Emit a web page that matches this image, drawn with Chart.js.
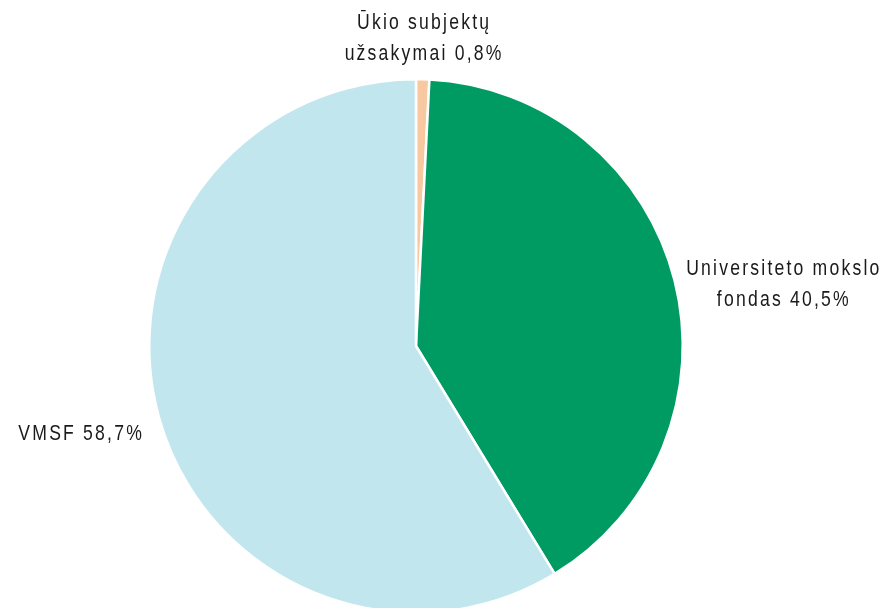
<!DOCTYPE html>
<html>
<head>
<meta charset="utf-8">
<script src="https://cdn.jsdelivr.net/npm/chart.js@4"></script>
<style>
  html, body { margin: 0; padding: 0; background: #fff; overflow: hidden; }
  #wrap { width: 885px; height: 692px; position: relative; }
</style>
</head>
<body>
<div id="wrap"><canvas id="pieChart"></canvas></div>
<script>
// data
const labels = ["Ūkio subjektų užsakymai", "Universiteto mokslo fondas", "VMSF"];
const labelLines = [["Ūkio subjektų", "užsakymai 0,8%"], ["Universiteto mokslo", "fondas 40,5%"], ["VMSF 58,7%"]];
const values = [0.8, 40.5, 58.7];
const colors = ["#F8C9A0", "#009B63", "#C2E6EE"];

// outside labels (narrow look: squeeze a regular sans horizontally)
const outsideLabels = {
  id: "outsideLabels",
  afterDraw(chart) {
    const ctx = chart.ctx;
    const meta = chart.getDatasetMeta(0);
    const sx = 0.8;
    const sp = 2.2;
    ctx.save();
    ctx.font = "22px 'Liberation Sans', Arial, sans-serif";
    ctx.letterSpacing = (sp / sx).toFixed(2) + "px";
    ctx.fillStyle = "#1a1a1a";
    ctx.textBaseline = "middle";
    const lh = 31;
    meta.data.forEach((arc, i) => {
      const p = arc.getProps(["x", "y", "startAngle", "endAngle", "outerRadius"], true);
      const a = (p.startAngle + p.endAngle) / 2;
      const cx = Math.cos(a), cy = Math.sin(a);
      const r = p.outerRadius + (cx < -0.3 ? 18 : 12);
      let x = p.x + cx * r, y = p.y + cy * r;
      const lines = labelLines[i];
      // drop the trailing letter spacing from the measured width
      const widths = lines.map(t => ctx.measureText(t).width * sx - sp);
      const blockW = Math.max(...widths);
      let top, mid;
      if (Math.abs(cx) < 0.3) {
        mid = x;
        top = y - lines.length * lh + lh / 2 + 2;
      } else {
        mid = cx > 0 ? x + blockW / 2 : x - blockW / 2;
        top = y - (lines.length - 1) * lh / 2 + (cx > 0 ? 7 : 11);
      }
      lines.forEach((t, k) => {
        ctx.save();
        ctx.translate(mid - widths[k] / 2, top + k * lh);
        ctx.scale(sx, 1);
        ctx.textAlign = "left";
        ctx.fillText(t, 0, 0);
        ctx.restore();
      });
    });
    ctx.restore();
  }
};

new Chart(document.getElementById("pieChart").getContext("2d"), {
  type: "pie",
  data: {
    labels: labels,
    datasets: [{
      data: values,
      backgroundColor: colors,
      borderColor: "#ffffff",
      borderWidth: 2.5
    }]
  },
  options: {
    responsive: true,
    maintainAspectRatio: false,
    animation: false,
    layout: { padding: { left: 148, right: 201, top: 78, bottom: 78 } },
    plugins: {
      legend: { display: false },
      tooltip: { enabled: false }
    }
  },
  plugins: [outsideLabels]
});
</script>
</body>
</html>
